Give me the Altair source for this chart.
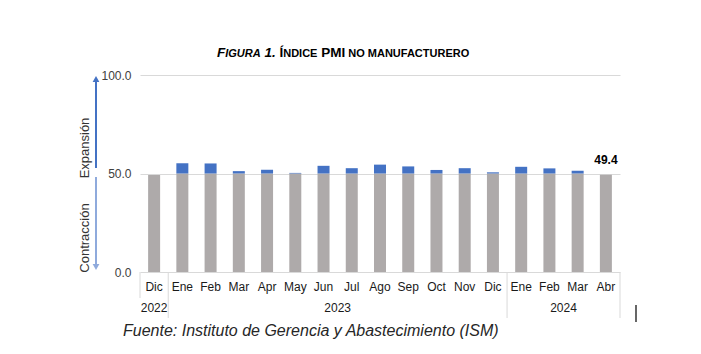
import altair as alt
import pandas as pd

months = ["Dic", "Ene", "Feb", "Mar", "Apr", "May", "Jun", "Jul", "Ago", "Sep",
          "Oct", "Nov", "Dic", "Ene", "Feb", "Mar", "Abr"]
years = [2022] + [2023] * 12 + [2024] * 4
values = [49.2, 55.2, 55.1, 51.2, 51.9, 50.3, 53.9, 52.7, 54.5, 53.6,
          51.8, 52.7, 50.6, 53.4, 52.6, 51.4, 49.4]
year_labels = ["2022", "2023", "2024"]
year_start = [0, 1, 13]
year_end = [0, 12, 16]
sep_full = [0.5, 12.5, 16.5]
sep_short = [-0.5]
y_ticks = [0, 50, 100]
threshold = 50.0

FONT = "Liberation Sans"
W, H = 480, 197

df = pd.DataFrame({"i": list(range(len(months))), "month": months,
                   "year": years, "value": values})
df["gray"] = df["value"].clip(upper=threshold)
df["lo"] = threshold
df_blue = df[df["value"] > threshold]
df_last = df.tail(1)

df_years = pd.DataFrame({"label": year_labels, "s": year_start, "e": year_end})
df_years["c"] = (df_years["s"] + df_years["e"]) / 2
df_sep = pd.DataFrame({"p": sep_full})
df_sep_s = pd.DataFrame({"p": sep_short})
dummy = pd.DataFrame({"a": [0]})

xs = alt.Scale(domain=[-0.5, len(months) - 0.5], nice=False, zero=False, padding=0)
ys = alt.Scale(domain=[0, 100], nice=False)

gray = alt.Chart(df).mark_bar(color="#AEAAAA", size=12).encode(
    x=alt.X("i:Q", scale=xs, axis=None),
    y=alt.Y("gray:Q", scale=ys, stack=None,
            axis=alt.Axis(values=y_ticks, format=".1f", grid=True,
                          gridColor="#D9D9D9", domain=False, ticks=False,
                          labelPadding=9, labelFontSize=12,
                          labelColor="#404040", labelFont=FONT, title=None)),
)
blue = alt.Chart(df_blue).mark_bar(color="#4472C4", size=12).encode(
    x=alt.X("i:Q", scale=xs),
    y=alt.Y("value:Q", scale=ys),
    y2="lo:Q",
)
last_lbl = alt.Chart(df_last).mark_text(
    dy=-8, baseline="bottom", fontWeight="bold", fontSize=12, font=FONT,
    color="#000000").encode(
    x=alt.X("i:Q", scale=xs),
    y=alt.Y("value:Q", scale=ys),
    text=alt.Text("value:Q", format=".1f"),
)
month_lbl = alt.Chart(df).mark_text(
    baseline="middle", fontSize=12, font=FONT, color="#1a1a1a").encode(
    x=alt.X("i:Q", scale=xs),
    y=alt.value(H + 15),
    text="month:N",
)
year_lbl = alt.Chart(df_years).mark_text(
    baseline="middle", fontSize=12, font=FONT, color="#1a1a1a").encode(
    x=alt.X("c:Q", scale=xs),
    y=alt.value(H + 36),
    text="label:N",
)
seps = alt.Chart(df_sep).mark_rule(color="#D9D9D9", strokeWidth=1).encode(
    x=alt.X("p:Q", scale=xs), y=alt.value(H), y2=alt.value(H + 46))
seps_s = alt.Chart(df_sep_s).mark_rule(color="#D9D9D9", strokeWidth=1).encode(
    x=alt.X("p:Q", scale=xs), y=alt.value(H), y2=alt.value(H + 26))

# arrows
ax = -44
up_line = alt.Chart(dummy).mark_rule(color="#4472C4", strokeWidth=2).encode(
    x=alt.value(ax), y=alt.value(5), y2=alt.value(93))
up_head = alt.Chart(dummy).mark_point(shape="triangle-up", filled=True,
                                      color="#4472C4", size=45, opacity=1).encode(
    x=alt.value(ax), y=alt.value(4))
dn_line = alt.Chart(dummy).mark_rule(color="#8FAADC", strokeWidth=2).encode(
    x=alt.value(ax), y=alt.value(102), y2=alt.value(191))
dn_head = alt.Chart(dummy).mark_point(shape="triangle-down", filled=True,
                                      color="#8FAADC", size=45, opacity=1).encode(
    x=alt.value(ax), y=alt.value(192))
exp_t = alt.Chart(dummy).mark_text(angle=270, fontSize=13, font=FONT,
                                   color="#333333", baseline="middle",
                                   text="Expansión").encode(
    x=alt.value(-55), y=alt.value(73))
con_t = alt.Chart(dummy).mark_text(angle=270, fontSize=13, font=FONT,
                                   color="#333333", baseline="middle",
                                   text="Contracción").encode(
    x=alt.value(-55), y=alt.value(163))

# title in small caps
ty = -18
def tpiece(txt, px, fs, italic):
    return alt.Chart(dummy).mark_text(
        text=txt, fontSize=fs, font=FONT, fontWeight="bold",
        fontStyle="italic" if italic else "normal", align="left",
        baseline="alphabetic", color="#000000").encode(
        x=alt.value(px - 140), y=alt.value(ty))

CAP, SC = 13.5, 11
title_parts = [
    tpiece("F", 217, CAP, True),
    tpiece("IGURA", 225.2, SC, True),
    tpiece("1.", 264.4, CAP, True),
    tpiece("Í", 279.4, CAP, False),
    tpiece("NDICE", 283.2, SC, False),
    tpiece("PMI", 321.2, CAP, False),
    tpiece("NO", 348.3, SC, False),
    tpiece("MANUFACTURERO", 367.8, SC, False),
]

source = alt.Chart(dummy).mark_text(
    text="Fuente: Instituto de Gerencia y Abastecimiento (ISM)", fontSize=16,
    font=FONT, fontStyle="italic", align="left", baseline="middle",
    color="#262626").encode(x=alt.value(123 - 140), y=alt.value(331 - 75))

cursor = alt.Chart(dummy).mark_rule(color="#000000", strokeWidth=1.2).encode(
    x=alt.value(636 - 140), y=alt.value(305 - 75), y2=alt.value(322 - 75))

chart = alt.layer(
    gray, blue, last_lbl, month_lbl, year_lbl, seps, seps_s,
    up_line, up_head, dn_line, dn_head, exp_t, con_t,
    *title_parts, source, cursor,
).properties(
    width=W, height=H,
    padding={"left": 140, "top": 75, "right": 81, "bottom": 82},
    autosize=alt.AutoSizeParams(type="none"),
    background="white",
).configure_view(stroke=None)

chart.save("out.html", embed_options={"renderer": "svg", "actions": False})
